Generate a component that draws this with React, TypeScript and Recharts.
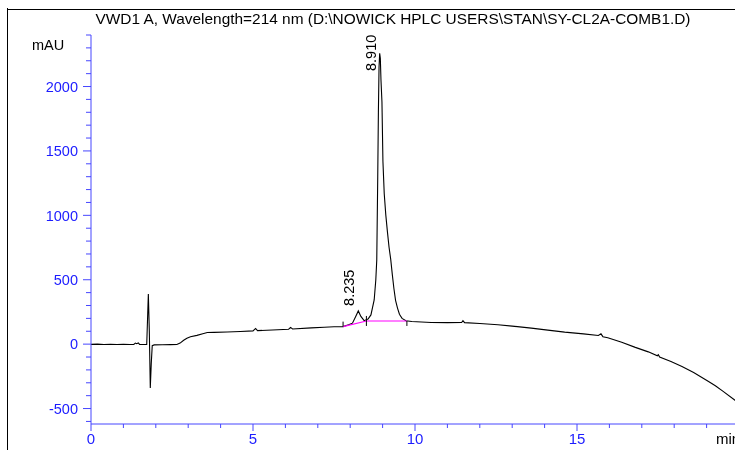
import React from "react";
import { LineChart, Line, XAxis, YAxis, ReferenceDot } from "recharts";

// retention time (min) and detector signal (mAU)
const times = [
  0, 0.2, 0.4, 0.6, 0.8, 1.0, 1.2, 1.32, 1.37, 1.41, 1.46, 1.5, 1.6, 1.72,
  1.77, 1.8, 1.83, 1.86, 1.89, 1.95, 2.2, 2.45, 2.65, 2.75, 2.86, 2.96, 3.07,
  3.27, 3.45, 3.59, 3.8, 4.2, 4.61, 5.0, 5.08, 5.14, 5.6, 6.1, 6.16, 6.22, 6.8,
  7.2, 7.5, 7.78, 7.95, 8.07, 8.17, 8.25, 8.33, 8.43, 8.55, 8.64, 8.74, 8.79,
  8.82, 8.85, 8.87, 8.89, 8.91, 8.93, 8.95, 8.98, 9.01, 9.05, 9.1, 9.15, 9.2,
  9.25, 9.3, 9.35, 9.4, 9.46, 9.52, 9.6, 9.72, 9.9, 10.2, 10.5, 11.0, 11.44,
  11.48, 11.53, 12.0, 12.56, 13.0, 13.59, 14.1, 14.62, 15.2, 15.66, 15.74, 15.8,
  15.95, 16.38, 16.8, 17.2, 17.48, 17.51, 17.55, 17.9, 18.24, 18.6, 19.06,
  19.27, 19.5, 19.9, 20.0,
];
const signal = [
  -2, 0, -3, -1, -3, -2, -3, -2, 8, 3, 9, -2, -3, -2,
  390, 100, -340, -150, -12, -6, -5, -4, -3, 8, 30, 46, 58,
  68, 80, 90, 91, 94, 98, 103, 122, 105, 110, 116, 130, 118, 126,
  131, 135, 136, 150, 163, 215, 258, 215, 182, 195, 227, 343, 498,
  654, 1300, 1800, 2150, 2258, 2220, 2050, 1880, 1420, 1170, 1000, 870, 750,
  660, 540, 430, 340, 280, 232, 200, 182, 176, 172, 168, 167, 168,
  183, 167, 160, 150, 140, 124, 109, 93, 80, 67, 80, 58,
  50, 15, -25, -60, -90, -82, -100, -135, -173, -220, -290,
  -323, -365, -440, -458,
];

// integration baseline (peak start / valley / end)
const baselineTimes = [7.78, 8.5, 9.75];
const baselineValues = [136, 180, 180];

// peak annotations
const peakTimes = [8.25, 8.91];
const peakHeights = [258, 2258];
const peakLabels = ["8.235", "8.910"];

// axis ticks
const xTicks = [0, 1, 2, 3, 4, 5, 6, 7, 8, 9, 10, 11, 12, 13, 14, 15, 16, 17, 18, 19];
const yTicks = [
  -600, -500, -400, -300, -200, -100, 0, 100, 200, 300, 400, 500, 600, 700, 800,
  900, 1000, 1100, 1200, 1300, 1400, 1500, 1600, 1700, 1800, 1900, 2000, 2100,
  2200, 2300, 2400,
];

const title = "VWD1 A, Wavelength=214 nm (D:\\NOWICK HPLC USERS\\STAN\\SY-CL2A-COMB1.D)";
const yUnit = "mAU";
const xUnit = "min";

const mainData = times.map((t, i) => ({ t, v: signal[i] }));
const baseData = baselineTimes.map((t, i) => ({ t, b: baselineValues[i] }));

const AXIS = "#4646ff";
const TXT = "#1c1cff";
const FONT = "'Liberation Sans', Arial, sans-serif";

const YTick = (props: any) => {
  const { x, y, payload } = props;
  const v = payload.value;
  const major = v % 500 === 0;
  return (
    <g>
      <line x1={x - (major ? 8 : 5)} x2={x} y1={y} y2={y} stroke={AXIS} strokeWidth={1} />
      {major && (
        <text x={x - 13} y={y} dy="0.36em" textAnchor="end" fontSize={14.5} fill={TXT} fontFamily={FONT}>
          {v}
        </text>
      )}
    </g>
  );
};

const XTick = (props: any) => {
  const { x, y, payload } = props;
  const v = payload.value;
  const major = v % 5 === 0;
  return (
    <g>
      <line x1={x} x2={x} y1={y} y2={y + (major ? 7 : 4)} stroke={AXIS} strokeWidth={1} />
      {major && (
        <text x={x} y={y + 20} textAnchor="middle" fontSize={15} fill={TXT} fontFamily={FONT}>
          {v}
        </text>
      )}
    </g>
  );
};

const PeakLabel = ({ cx, cy, text }: any) => {
  if (cx == null || cy == null) return null;
  const start = Math.max(cy - 5, 63);
  return (
    <text
      transform={`translate(${cx - 4},${start}) rotate(-90)`}
      textAnchor="start"
      fontSize={14.5}
      fill="#000"
      fontFamily={FONT}
    >
      {text}
    </text>
  );
};

const IntegTick = ({ cx, cy, idx }: any) => {
  if (cx == null || cy == null) return null;
  const up = idx === 0 ? 5 : idx === 1 ? 5 : 0;
  const down = idx === 0 ? 0 : 5;
  return <line x1={cx} x2={cx} y1={cy - up} y2={cy + down} stroke="#000" strokeWidth={1} />;
};

export default function App() {
  return (
    <div
      style={{
        position: "fixed",
        left: 7,
        top: 8,
        width: 728,
        height: 442,
        overflow: "hidden",
      }}
    >
      <LineChart width={732} height={442} margin={{ top: 27, right: 0, bottom: 0, left: 0 }} data={mainData}>
        <XAxis
          type="number"
          dataKey="t"
          domain={[0, 20]}
          ticks={xTicks}
          interval={0}
          tick={<XTick />}
          tickLine={false}
          tickSize={0}
          tickMargin={0}
          axisLine={{ stroke: AXIS }}
          height={26}
          allowDataOverflow
        />
        <YAxis
          type="number"
          domain={[-620, 2400]}
          ticks={yTicks}
          interval={0}
          tick={<YTick />}
          tickLine={false}
          tickSize={0}
          tickMargin={0}
          axisLine={{ stroke: AXIS }}
          width={84}
          allowDataOverflow
        />
        <Line
          type="linear"
          dataKey="v"
          stroke="#000"
          strokeWidth={1.1}
          dot={false}
          isAnimationActive={false}
        />
        <Line
          type="linear"
          data={baseData}
          dataKey="b"
          stroke="#ff00ff"
          strokeWidth={1.1}
          dot={false}
          isAnimationActive={false}
        />
        {baselineTimes.map((t, i) => (
          <ReferenceDot
            key={"it" + i}
            x={t}
            y={baselineValues[i]}
            r={0}
            ifOverflow="visible"
            shape={(p: any) => <IntegTick cx={p.cx} cy={p.cy} idx={i} />}
          />
        ))}
        {peakTimes.map((t, i) => (
          <ReferenceDot
            key={"pk" + i}
            x={t}
            y={peakHeights[i]}
            r={0}
            ifOverflow="visible"
            shape={(p: any) => <PeakLabel cx={p.cx} cy={p.cy} text={peakLabels[i]} />}
          />
        ))}
      </LineChart>
      <svg
        width={728}
        height={442}
        style={{ position: "absolute", left: 0, top: 0, pointerEvents: "none" }}
      >
        <line x1={0.5} x2={0.5} y1={0} y2={442} stroke="#000" strokeWidth={1} />
        <line x1={0} x2={728} y1={1.5} y2={1.5} stroke="#000" strokeWidth={1} />
        <text x={386} y={16} textAnchor="middle" fontSize={15} fill="#000" fontFamily={FONT} textLength={595} lengthAdjust="spacingAndGlyphs">
          {title}
        </text>
        <text x={25} y={42} fontSize={14.5} fill="#000" fontFamily={FONT}>
          {yUnit}
        </text>
        <text x={709} y={436} fontSize={15} fill="#000" fontFamily={FONT}>
          {xUnit}
        </text>
      </svg>
    </div>
  );
}
